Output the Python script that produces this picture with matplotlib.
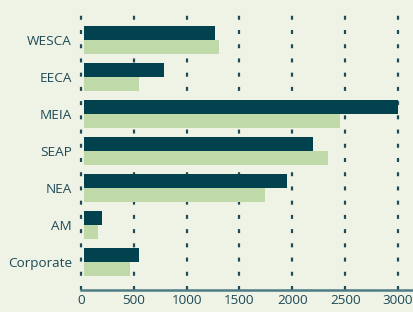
import numpy as np
import matplotlib as mpl
mpl.use('Agg')
import matplotlib.pyplot as plt

regions = ['WESCA', 'EECA', 'MEIA', 'SEAP', 'NEA', 'AM', 'Corporate']
dark_vals = [1268, 785, 3000, 2196, 1950, 199, 549]
light_vals = [1306, 549, 2451, 2337, 1741, 161, 464]
xticks = [0, 500, 1000, 1500, 2000, 2500, 3000]

bg = '#eef3e6'
dark = '#02424f'
light = '#bfdaa8'
txt = '#1f4a55'

plt.rcParams['font.family'] = ['Open Sans', 'DejaVu Sans']

fig = plt.figure(figsize=(4.14, 3.12), dpi=100, facecolor=bg)
ax = fig.add_axes([81/414, 22/312, 333/414, 278/312], facecolor=bg)

y = np.arange(len(regions))
h = 0.38
# bars sit a few px right of the zero line, as in the original
x0 = 28
ax.barh(y - h/2, np.array(dark_vals) - x0, left=x0, height=h, color=dark, zorder=3)
ax.barh(y + h/2, np.array(light_vals) - x0, left=x0, height=h, color=light, zorder=3)

ax.set_ylim(len(regions) - 0.25, -0.75)
ax.set_xlim(0, 3000 + 16/317*3000)

# dotted vertical grid
ax.vlines(xticks, len(regions) - 0.25, -0.75, colors=txt,
          linestyles=[(0, (1.8, 4.6))], linewidth=1.6, zorder=1, clip_on=False)

ax.set_xticks(xticks)
ax.set_yticks(y)
ax.set_yticklabels(regions)
ax.tick_params(length=0, labelsize=9.7, colors=txt, pad=3)
ax.tick_params(axis='y', pad=6.5)

for s in ['left', 'right', 'top']:
    ax.spines[s].set_visible(False)
ax.spines['bottom'].set_color('#4d7c84')
ax.spines['bottom'].set_linewidth(1.8)
ax.spines['bottom'].set_zorder(4)

plt.savefig('out.png', dpi=100, facecolor=bg)
plt.close()
